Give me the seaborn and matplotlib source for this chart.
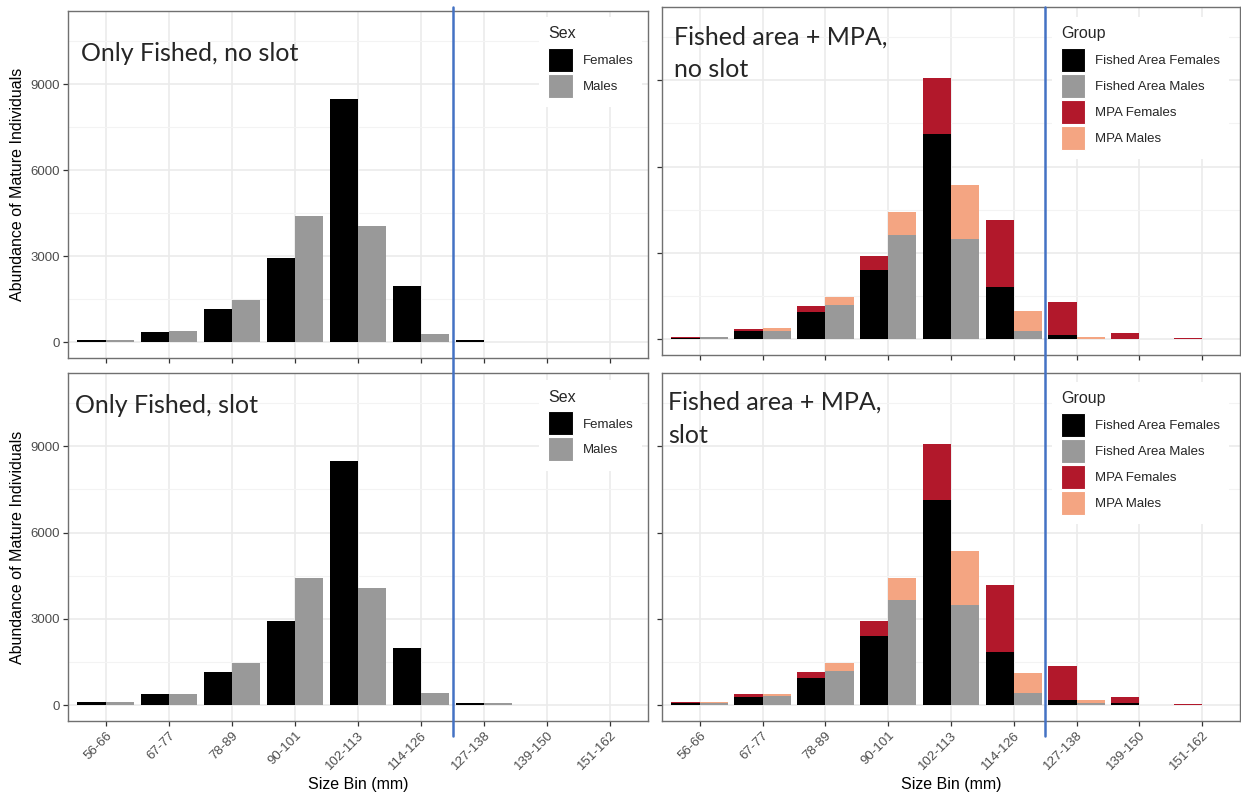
import numpy as np
import pandas as pd
import matplotlib
matplotlib.use("Agg")
import matplotlib.pyplot as plt
import seaborn as sns
from matplotlib.patches import Patch
from matplotlib.lines import Line2D
from matplotlib.ticker import FixedLocator

# ---------------- data ----------------
bins = ["56-66", "67-77", "78-89", "90-101", "102-113", "114-126",
        "127-138", "139-150", "151-162"]

# Only fished, no slot
of_ns_females = [80, 360, 1160, 2920, 8470, 1970, 80, 0, 0]
of_ns_males = [80, 380, 1470, 4400, 4060, 290, 0, 0, 0]

# Only fished, slot
of_s_females = [100, 380, 1170, 2915, 8480, 1980, 90, 0, 0]
of_s_males = [100, 390, 1480, 4410, 4070, 430, 60, 15, 0]

# Fished area + MPA, no slot
fa_ns_females = [50, 290, 940, 2400, 7120, 1830, 160, 20, 0]
fa_ns_males = [60, 300, 1200, 3630, 3470, 290, 0, 0, 0]
mpa_ns_females = [30, 80, 220, 505, 1960, 2325, 1145, 210, 30]
mpa_ns_males = [15, 80, 265, 775, 1885, 695, 90, 0, 0]

# Fished area + MPA, slot
fa_s_females = [70, 300, 950, 2410, 7130, 1840, 185, 70, 10]
fa_s_males = [70, 310, 1200, 3655, 3480, 430, 80, 10, 0]
mpa_s_females = [45, 80, 220, 505, 1965, 2325, 1170, 200, 25]
mpa_s_males = [35, 80, 280, 750, 1885, 680, 85, 0, 0]

sex_levels = ["Females", "Males"]
group_levels = ["Fished Area Females", "Fished Area Males", "MPA Females", "MPA Males"]

panel_titles = {
    "tl": ["Only Fished, no slot"],
    "tr": ["Fished area + MPA,", "no slot"],
    "bl": ["Only Fished, slot"],
    "br": ["Fished area + MPA,", "slot"],
}

C_F = "#000000"
C_M = "#999999"
C_MPA_F = "#B2182B"
C_MPA_M = "#F4A582"
BLUE = "#4472C4"

# ---------------- figure ----------------
sns.set_theme(style="white")
plt.rcParams['font.family'] = ['Liberation Sans', 'DejaVu Sans']

W, H = 1241, 793
fig = plt.figure(figsize=(W / 100, H / 100), dpi=100)


def add_ax(l, t, r, b):
    return fig.add_axes([l / W, 1 - b / H, (r - l) / W, (b - t) / H])


def long_df(f, m):
    return pd.DataFrame({"bin": bins * 2,
                         "sex": ["Females"] * len(bins) + ["Males"] * len(bins),
                         "val": list(f) + list(m)})


def bars(ax, f, m, cf, cm):
    sns.barplot(data=long_df(f, m), x="bin", y="val", hue="sex", order=bins,
                hue_order=sex_levels, palette={"Females": cf, "Males": cm},
                width=0.9, saturation=1, errorbar=None, legend=False,
                linewidth=0, ax=ax)


def style(ax, ylabels, xlabels):
    ax.set_xlim(-0.6, 8.6)
    ax.set_ylim(-550, 11550)
    ax.set_facecolor("white")
    ax.set_axisbelow(True)
    ax.yaxis.set_major_locator(FixedLocator([0, 3000, 6000, 9000]))
    ax.yaxis.set_minor_locator(FixedLocator([1500, 4500, 7500, 10500]))
    ax.set_xticks(range(len(bins)))
    ax.grid(which="major", color="#EBEBEB", lw=1.2)
    ax.grid(which="minor", axis="y", color="#F3F3F3", lw=0.8)
    for s in ax.spines.values():
        s.set_color("#707070")
        s.set_linewidth(1.0)
    ax.tick_params(axis="both", which="major", direction="out", length=3.5,
                   width=0.9, color="#333333", labelcolor="#4D4D4D",
                   labelsize=9.5, pad=2.5, bottom=True, left=True)
    ax.tick_params(axis="y", which="minor", length=0)
    if ylabels:
        ax.set_yticklabels(["0", "3000", "6000", "9000"])
        ax.set_ylabel("Abundance of Mature Individuals", fontsize=11.5,
                      color="black", labelpad=4)
    else:
        ax.set_yticklabels([])
        ax.set_ylabel("")
    if xlabels:
        ax.set_xticklabels(bins, rotation=45, ha="right", va="top",
                           rotation_mode="anchor")
        ax.set_xlabel("Size Bin (mm)", fontsize=11.5, color="black", labelpad=3)
    else:
        ax.set_xticklabels([])
        ax.set_xlabel("")


def make_legend(ax, colors, labels, title, x, y):
    handles = [Patch(facecolor=c, edgecolor="white", lw=0.8, label=l)
               for c, l in zip(colors, labels)]
    leg = ax.legend(handles=handles, title=title, loc="upper left",
                    bbox_to_anchor=(x, y), borderaxespad=0, frameon=True,
                    fancybox=False, facecolor="white", edgecolor="white",
                    framealpha=1, fontsize=9.5, title_fontsize=11.5,
                    handlelength=1.85, handleheight=2.42, labelspacing=0.15,
                    handletextpad=0.75, borderpad=0.7, alignment="left")
    leg.get_frame().set_linewidth(0)
    leg._legend_box.sep = 5.0
    return leg


def titles(ax, lines, x, y0, dy):
    for i, line in enumerate(lines):
        ax.text(x, y0 - i * dy, line, transform=ax.transAxes, fontsize=18,
                family=["Lato", "DejaVu Sans"], va="baseline", ha="left")


# top-left
ax_tl = add_ax(68, 11, 648, 358)
bars(ax_tl, of_ns_females, of_ns_males, C_F, C_M)
style(ax_tl, True, False)
make_legend(ax_tl, [C_F, C_M], sex_levels, "Sex", 0.812, 0.983)
titles(ax_tl, panel_titles["tl"], 0.022, 0.856, 0.0)

# top-right
ax_tr = add_ax(662, 7, 1240, 355)
bars(ax_tr, np.add(fa_ns_females, mpa_ns_females), np.add(fa_ns_males, mpa_ns_males),
     C_MPA_F, C_MPA_M)
bars(ax_tr, fa_ns_females, fa_ns_males, C_F, C_M)
style(ax_tr, False, False)
make_legend(ax_tr, [C_F, C_M, C_MPA_F, C_MPA_M], group_levels, "Group", 0.674, 0.971)
titles(ax_tr, panel_titles["tr"], 0.0208, 0.891, 0.092)

# bottom-left
ax_bl = add_ax(68, 373, 648, 721)
bars(ax_bl, of_s_females, of_s_males, C_F, C_M)
style(ax_bl, True, True)
make_legend(ax_bl, [C_F, C_M], sex_levels, "Sex", 0.812, 0.979)
titles(ax_bl, panel_titles["bl"], 0.012, 0.885, 0.0)

# bottom-right
ax_br = add_ax(662, 373, 1240, 721)
bars(ax_br, np.add(fa_s_females, mpa_s_females), np.add(fa_s_males, mpa_s_males),
     C_MPA_F, C_MPA_M)
bars(ax_br, fa_s_females, fa_s_males, C_F, C_M)
style(ax_br, False, True)
make_legend(ax_br, [C_F, C_M, C_MPA_F, C_MPA_M], group_levels, "Group", 0.674, 0.974)
titles(ax_br, panel_titles["br"], 0.0104, 0.894, 0.095)

# slot boundary lines (between 114-126 and 127-138)
fig.canvas.draw()
inv = fig.transFigure.inverted()
for ax in (ax_tl, ax_tr):
    xf = inv.transform(ax.transData.transform((5.5, 0)))[0]
    fig.add_artist(Line2D([xf, xf], [1 - 7 / H, 1 - 736 / H], transform=fig.transFigure,
                          color=BLUE, lw=1.8))

fig.savefig("out.png", dpi=100, facecolor="white")
